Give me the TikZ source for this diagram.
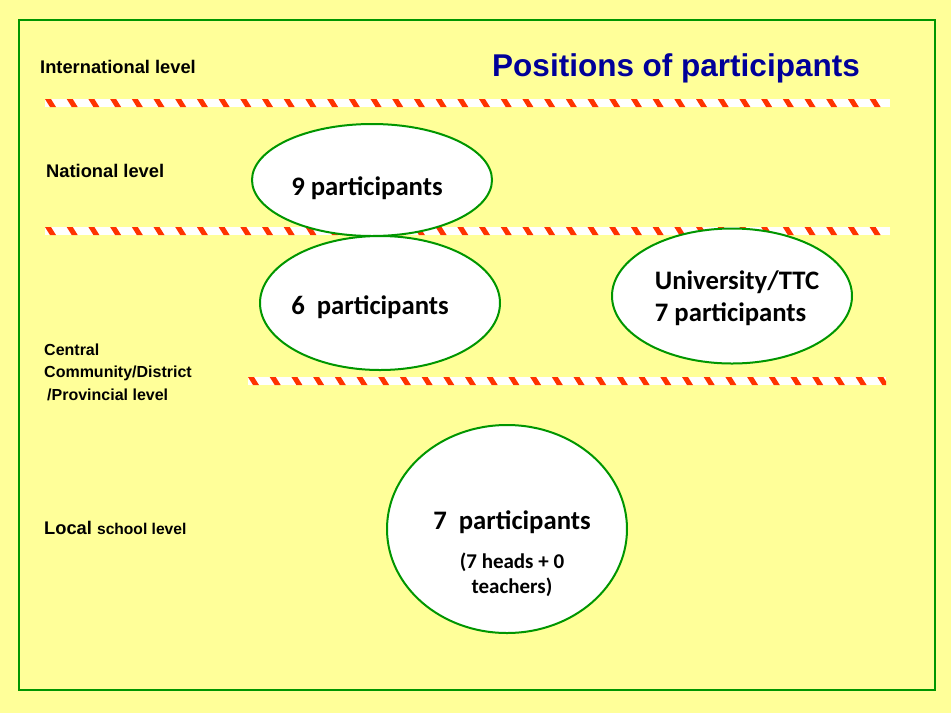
\documentclass[tikz,border=0pt]{standalone}
\usepackage{fontspec}
\setmainfont{Liberation Sans}
\newfontfamily\calfont{Carlito}
\usetikzlibrary{shapes.geometric}

\definecolor{slideyellow}{RGB}{255,255,153}
\definecolor{slidegreen}{RGB}{0,150,0}
\definecolor{taperred}{RGB}{255,51,0}
\definecolor{titleblue}{RGB}{0,0,153}

% red and white barrier tape: #1 = y, #2 = left x, #3 = right x
\newcommand{\tape}[3]{%
  \fill[white] (#2,#1-4) rectangle (#3,#1+4);
  \begin{scope}
    \clip (#2,#1-4) rectangle (#3,#1+4);
    \pgfmathtruncatemacro{\nstripes}{(#3-#2)/21.7}
    \foreach \k in {0,...,\nstripes}{
      \fill[taperred] ({#2+\k*21.7},#1-4) -- ++(6,0) -- ++(5,8) -- ++(-6,0) -- cycle;
    }
  \end{scope}}

\begin{document}
\begin{tikzpicture}[x=1pt, y=-1pt,
    lvl/.style={anchor=west, inner sep=0pt, font=\bfseries\fontsize{18.3}{22}\selectfont},
    part/.style={ellipse, draw=slidegreen, line width=2pt, fill=white, inner sep=0pt},
    parttext/.style={inner sep=0pt, font=\calfont\bfseries\fontsize{26.7}{32}\selectfont}]
  % slide background and frame
  \fill[slideyellow] (0,0) rectangle (951,713);
  \useasboundingbox (0,0) rectangle (951,713);
  \draw[slidegreen, line width=2pt] (19,20) rectangle (935,690);
  % level names on the left
  \node[lvl] (intl) at (40,67) {International level};
  \node[lvl] (natl) at (46,171) {National level};
  \node[lvl, align=left, font=\bfseries\fontsize{16}{22.5}\selectfont] (cent) at (44,372)
    {Central\\Community/District\\\hspace{3pt}/Provincial level};
  \node[lvl] (locl) at (44,528) {Local \fontsize{15.6}{18}\selectfont school level};
  \node[font=\bfseries\fontsize{31.5}{36}\selectfont, text=titleblue] (title) at (676,68)
    {Positions of participants};
  % borders between the levels
  \tape{103}{45}{890}
  \tape{231}{45}{890}
  \tape{381}{248}{886}
  % groups of participants
  \node[part, minimum width=240pt, minimum height=112pt] (nat) at (372,180) {};
  \node[parttext] (nattext) at (367,188) {9 participants};
  \node[part, minimum width=240pt, minimum height=134pt] (cen) at (380,303) {};
  \node[parttext] (centext) at (370,307) {6\ \ participants};
  \node[part, minimum width=240pt, minimum height=135pt] (uni) at (732,296) {};
  \node[parttext, align=left] (unitext) at (737,298) {University/TTC\\7 participants};
  \node[part, minimum width=240pt, minimum height=208pt] (loc) at (507,529) {};
  \node[parttext, align=center] (loctext) at (512,554)
    {7\ \ participants\\[7pt]\fontsize{21}{25}\selectfont (7 heads + 0\\[-7pt]\fontsize{21}{25}\selectfont teachers)};
\end{tikzpicture}
\end{document}
